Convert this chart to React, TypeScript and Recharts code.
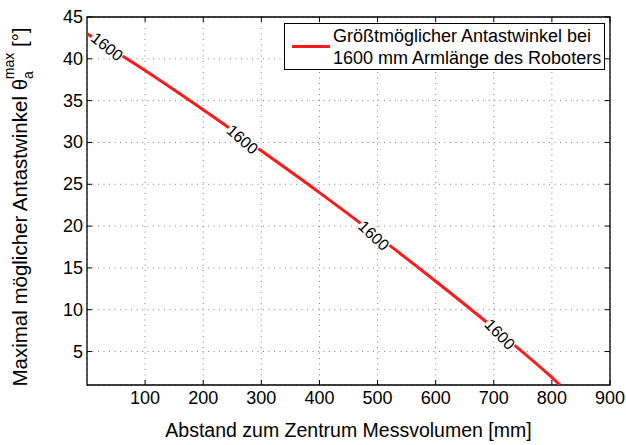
import React from 'react';
import {
  CartesianGrid,
  Legend,
  Line,
  LineChart,
  ReferenceArea,
  ReferenceDot,
  XAxis,
  YAxis,
} from 'recharts';

// values
const distanceMm = [0, 100, 200, 300, 400, 500, 600, 700, 800, 814];
const maxAngleDeg = [43.0, 38.6, 33.9, 29.0, 24.0, 18.8, 13.4, 7.8, 1.9, 1.0];
const xTicks = [100, 200, 300, 400, 500, 600, 700, 800, 900];
const yTicks = [5, 10, 15, 20, 25, 30, 35, 40, 45];
const contourLabelX = [35, 268, 494, 711];
const contourLabelY = [41.5, 30.4, 18.9, 7.1];
const contourLabelText = '1600';
const seriesName = 'Größtmöglicher Antastwinkel bei\n1600 mm Armlänge des Roboters';

const data = distanceMm.map((x, i) => ({ x, angle: maxAngleDeg[i] }));

const W = 626;
const H = 445;
const MARGIN = { top: 17, right: 16, left: 0, bottom: 0 };
const Y_AXIS_W = 87;
const X_AXIS_H = 60;
const X_DOMAIN: [number, number] = [0, 900];
const Y_DOMAIN: [number, number] = [1, 45];
const PLOT_LEFT = MARGIN.left + Y_AXIS_W;
const PLOT_TOP = MARGIN.top;
const PLOT_RIGHT = W - MARGIN.right;
const PLOT_BOTTOM = H - MARGIN.bottom - X_AXIS_H;
const FONT = '"Liberation Sans", Arial, Helvetica, sans-serif';
const FS = 18;
const LABEL_FS = 19.5;
const TICK_LEN = 5;

const pxPerX = (PLOT_RIGHT - PLOT_LEFT) / (X_DOMAIN[1] - X_DOMAIN[0]);
const pxPerY = (PLOT_BOTTOM - PLOT_TOP) / (Y_DOMAIN[1] - Y_DOMAIN[0]);

// rotation of a contour label so it follows the curve (matlab tilts them a bit more)
const slopeAngle = (x: number) => {
  let i = 0;
  while (i < distanceMm.length - 2 && distanceMm[i + 1] <= x) i++;
  const dx = (distanceMm[i + 1] - distanceMm[i]) * pxPerX;
  const dy = (maxAngleDeg[i] - maxAngleDeg[i + 1]) * pxPerY;
  return (Math.atan2(dy, dx) * 180) / Math.PI + 6;
};

const XTick = (props: any) => {
  const { x, y, payload } = props;
  return (
    <g>
      <line x1={x} y1={y} x2={x} y2={y - TICK_LEN} stroke="#000" />
      <line x1={x} y1={PLOT_TOP} x2={x} y2={PLOT_TOP + TICK_LEN} stroke="#000" />
      <text x={x} y={y + 19} textAnchor="middle" fontSize={FS} fontFamily={FONT} fill="#000">
        {payload.value}
      </text>
    </g>
  );
};

const YTick = (props: any) => {
  const { x, y, payload } = props;
  return (
    <g>
      <line x1={x} y1={y} x2={x + TICK_LEN} y2={y} stroke="#000" />
      <line x1={PLOT_RIGHT} y1={y} x2={PLOT_RIGHT - TICK_LEN} y2={y} stroke="#000" />
      <text x={x - 4} y={y + 6} textAnchor="end" fontSize={FS} fontFamily={FONT} fill="#000">
        {payload.value}
      </text>
    </g>
  );
};

const YLabel = () => {
  const cx = 27;
  const cy = 207;
  return (
    <text
      x={cx}
      y={cy}
      transform={`rotate(-90, ${cx}, ${cy})`}
      textAnchor="middle"
      fontSize={20.5}
      fontFamily={FONT}
      fill="#000"
    >
      Maximal möglicher Antastwinkel θ
      <tspan dy={6} fontSize={14}>a</tspan>
      <tspan dx={-8} dy={-19} fontSize={14}>max</tspan>
      <tspan dy={13}> [°]</tspan>
    </text>
  );
};

const ContourLabel = ({ cx, cy, angle }: { cx: number; cy: number; angle: number }) => (
  <g transform={`translate(${cx},${cy}) rotate(${angle})`}>
    <rect x={-18} y={-7} width={36} height={14} fill="#fff" />
    <text x={0} y={6} textAnchor="middle" fontSize={16} fontFamily={FONT} fill="#000">
      {contourLabelText}
    </text>
  </g>
);

const LegendBox = (props: any) => {
  const item = props.payload?.[0];
  return (
    <div
      style={{
        boxSizing: 'border-box',
        width: 321,
        height: 47,
        border: '1px solid #000',
        background: '#fff',
        display: 'flex',
        alignItems: 'center',
        fontFamily: FONT,
        fontSize: 18,
        lineHeight: '22px',
        color: '#000',
        overflow: 'hidden',
      }}
    >
      <div
        style={{ flex: '0 0 38px', height: 3, background: item?.color ?? '#f00', marginLeft: 7, marginRight: 3 }}
      />
      <div style={{ whiteSpace: 'pre' }}>{item?.value ?? seriesName}</div>
    </div>
  );
};

export default function App() {
  return (
    <div style={{ position: 'absolute', left: 0, top: 0, width: W, height: H, background: '#fff' }}>
      <LineChart width={W} height={H} data={data} margin={MARGIN}>
        <CartesianGrid stroke="#808080" strokeDasharray="1 4.5" />
        <XAxis
          dataKey="x"
          type="number"
          domain={X_DOMAIN}
          ticks={xTicks}
          height={X_AXIS_H}
          tickSize={0}
          tickMargin={0}
          tickLine={false}
          axisLine={false}
          tick={<XTick />}
          interval={0}
          allowDataOverflow
          label={{
            value: 'Abstand zum Zentrum Messvolumen [mm]',
            position: 'insideBottom',
            offset: 8,
            fontSize: LABEL_FS,
            fontFamily: FONT,
            fill: '#000',
          }}
        />
        <YAxis
          type="number"
          domain={Y_DOMAIN}
          ticks={yTicks}
          width={Y_AXIS_W}
          tickSize={0}
          tickMargin={0}
          tickLine={false}
          axisLine={false}
          tick={<YTick />}
          interval={0}
          allowDataOverflow
          label={{ content: () => <YLabel /> }}
        />
        <ReferenceArea
          x1={X_DOMAIN[0]}
          x2={X_DOMAIN[1]}
          y1={Y_DOMAIN[0]}
          y2={Y_DOMAIN[1]}
          fill="none"
          stroke="#000"
          strokeWidth={1.3}
          ifOverflow="visible"
        />
        <Line
          type="monotone"
          dataKey="angle"
          name={seriesName}
          stroke="#ff1a1a"
          strokeWidth={3}
          dot={false}
          activeDot={false}
          isAnimationActive={false}
        />
        {contourLabelX.map((lx, i) => (
          <ReferenceDot
            key={lx}
            x={lx}
            y={contourLabelY[i]}
            r={0}
            ifOverflow="visible"
            shape={(p: any) => <ContourLabel cx={p.cx} cy={p.cy} angle={slopeAngle(lx)} />}
          />
        ))}
        <Legend
          layout="vertical"
          align="center"
          verticalAlign="middle"
          wrapperStyle={{ left: 284, top: 23, width: 321, height: 47 }}
          content={<LegendBox />}
        />
      </LineChart>
    </div>
  );
}
